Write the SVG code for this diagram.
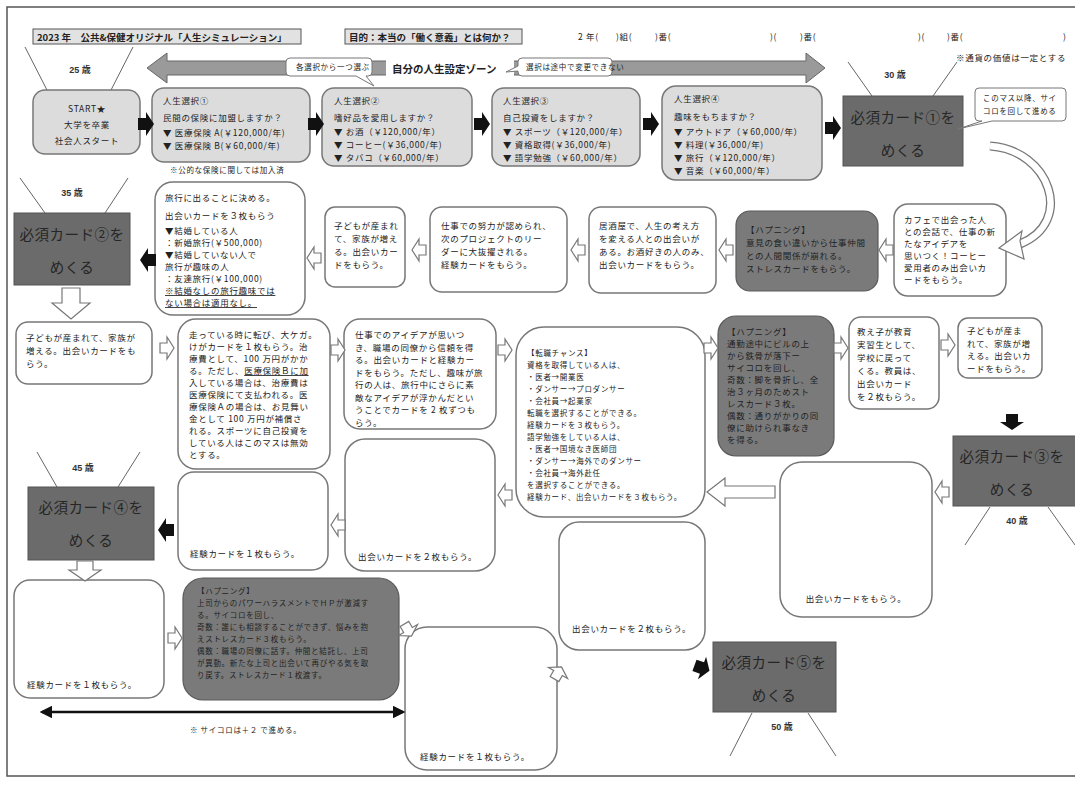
<svg xmlns="http://www.w3.org/2000/svg" xmlns:xlink="http://www.w3.org/1999/xlink" width="1075" height="800" viewBox="0 0 1075 800">
<style>
.t{font-family:"Noto Sans CJK JP","Liberation Sans",sans-serif;font-size:8.5px;fill:#222;letter-spacing:0.7px}
.s{font-size:7.5px}
.h{font-family:"Noto Sans CJK JP","Liberation Sans",sans-serif;font-size:9.5px;font-weight:bold;fill:#222}
.age{font-family:"Liberation Sans","Noto Sans CJK JP",sans-serif;font-size:9px;font-weight:bold;fill:#333;text-anchor:middle}
.lt{fill:#dcdcdc;stroke:#777;stroke-width:1.5}
.wb{fill:#fff;stroke:#777;stroke-width:1.5}
.db{fill:#7a7a7a;stroke:#5a5a5a;stroke-width:1.2}
.must{fill:#6b6b6b;stroke:#555;stroke-width:1}
.mt{font-family:"Liberation Serif","Noto Sans CJK JP",serif;font-size:14.5px;fill:#262626;text-anchor:middle;letter-spacing:0.5px}
.ln{stroke:#666;stroke-width:1;fill:none}
.ha{fill:#fff;stroke:#777;stroke-width:1.2}
.ba{fill:#111}
.u{text-decoration:underline}
</style>
<defs>
<path id="ha" d="M-7,-5 H0 V-11 L7,0 L0,11 V5 H-7 Z"/>
<path id="ba" d="M-8,-6 H0 V-12 L8,0 L0,12 V6 H-8 Z"/>
<marker id="mk" viewBox="0 0 10 10" refX="8" refY="5" markerWidth="5" markerHeight="5" orient="auto-start-reverse"><path d="M0,0 L10,5 L0,10 Z" fill="#111"/></marker>
</defs>
<rect x="7" y="7" width="1080" height="769" fill="#fff" stroke="#555" stroke-width="1.5"/>

<g id="header">
<rect x="33" y="29" width="268" height="15" fill="#e2e2e2" stroke="#555"/>
<text class="h" x="37" y="40.5">2023 年　公共&amp;保健オリジナル「人生シミュレーション」</text>
<rect x="345" y="29" width="177" height="15" fill="#e2e2e2" stroke="#555"/>
<text class="h" x="349" y="40.5">目的：本当の「働く意義」とは何か？</text>
<text class="t" x="578" y="40">2 年(</text>
<text class="t" x="616" y="40">)組(</text>
<text class="t" x="655" y="40">)番(</text>
<text class="t" x="770" y="40">)(</text>
<text class="t" x="800" y="40">)番(</text>
<text class="t" x="918" y="40">)(</text>
<text class="t" x="947" y="40">)番(</text>
<text class="t" x="1063" y="40">)</text>
<text class="t" x="956" y="61">※通貨の価値は一定とする</text>
</g>

<g id="zone">
<path d="M147,68 L167,53 L167,61 L806,61 L806,53 L825,68 L806,83 L806,75 L167,75 L167,83 Z" fill="#9a9a9a" stroke="#666"/>
<rect x="386" y="60" width="128" height="17" fill="#fff"/>
<text class="h" x="392" y="73" style="font-size:10.5px">自分の人生設定ゾーン</text>
<path d="M290,58 H368 Q372,58 372,62 V72 Q372,76 368,76 H366 L374,86 L356,76 H290 Q286,76 286,72 V62 Q286,58 290,58 Z" fill="#fff" stroke="#777"/>
<text class="t s" x="296" y="70">各選択から一つ選ぶ</text>
<path d="M522,58 H608 Q612,58 612,62 V72 Q612,76 608,76 H522 Q518,76 518,72 V71 L506,72 L518,66 V62 Q518,58 522,58 Z" fill="#fff" stroke="#777"/>
<text class="t s" x="526" y="70">選択は途中で変更できない</text>
</g>

<g id="ages">
<text class="age" x="80" y="73">25 歳</text>
<line class="ln" x1="25" y1="47" x2="48" y2="92"/><line class="ln" x1="133" y1="47" x2="110" y2="92"/>
<text class="age" x="895" y="78">30 歳</text>
<line class="ln" x1="848" y1="62" x2="872" y2="96"/><line class="ln" x1="957" y1="62" x2="933" y2="96"/>
<text class="age" x="72" y="196">35 歳</text>
<line class="ln" x1="20" y1="178" x2="45" y2="213"/><line class="ln" x1="128" y1="178" x2="105" y2="213"/>
<text class="age" x="1017" y="524">40 歳</text>
<line class="ln" x1="990" y1="507" x2="965" y2="545"/><line class="ln" x1="1048" y1="507" x2="1075" y2="545"/>
<text class="age" x="83" y="471">45 歳</text>
<line class="ln" x1="37" y1="452" x2="57" y2="487"/><line class="ln" x1="140" y1="452" x2="118" y2="487"/>
<text class="age" x="782" y="730">50 歳</text>
<line class="ln" x1="752" y1="713" x2="730" y2="756"/><line class="ln" x1="808" y1="713" x2="836" y2="756"/>
</g>

<g id="start">
<rect class="lt" x="33" y="90" width="107" height="64" rx="12"/>
<text class="t" text-anchor="middle" x="87" y="112">START★</text>
<text class="t" text-anchor="middle" x="87" y="128">大学を卒業</text>
<text class="t" text-anchor="middle" x="87" y="144">社会人スタート</text>
</g>
<g id="choice1">
<rect class="lt" x="152" y="88" width="158" height="74" rx="12"/>
<text class="t" x="163" y="104">人生選択①</text>
<text class="t" x="163" y="121">民間の保険に加盟しますか？</text>
<text class="t" x="163" y="136">▼ 医療保険 A(￥120,000/年)</text>
<text class="t" x="163" y="149">▼ 医療保険 B(￥60,000/年)</text>
<text class="t s" x="170" y="173">※公的な保険に関しては加入済</text>
</g>
<g id="choice2">
<rect class="lt" x="322" y="88" width="150" height="78" rx="12"/>
<text class="t" x="334" y="104">人生選択②</text>
<text class="t" x="334" y="121">嗜好品を愛用しますか？</text>
<text class="t" x="334" y="135">▼ お酒（￥120,000/年）</text>
<text class="t" x="334" y="148">▼ コーヒー(￥36,000/年)</text>
<text class="t" x="334" y="161">▼ タバコ（￥60,000/年）</text>
</g>
<g id="choice3">
<rect class="lt" x="492" y="88" width="148" height="78" rx="12"/>
<text class="t" x="503" y="104">人生選択③</text>
<text class="t" x="503" y="121">自己投資をしますか？</text>
<text class="t" x="503" y="135">▼ スポーツ（￥120,000/年）</text>
<text class="t" x="503" y="148">▼ 資格取得(￥36,000/年)</text>
<text class="t" x="503" y="161">▼ 語学勉強（￥60,000/年）</text>
</g>
<g id="choice4">
<rect class="lt" x="662" y="86" width="160" height="94" rx="14"/>
<text class="t" x="674" y="102">人生選択④</text>
<text class="t" x="674" y="120">趣味をもちますか？</text>
<text class="t" x="674" y="135">▼ アウトドア（￥60,000/年）</text>
<text class="t" x="674" y="148">▼ 料理(￥36,000/年)</text>
<text class="t" x="674" y="161">▼ 旅行（￥120,000/年）</text>
<text class="t" x="674" y="174">▼ 音楽（￥60,000/年）</text>
</g>
<g id="must1">
<rect class="must" x="843" y="96" width="120" height="70"/>
<text class="mt" x="903" y="123">必須カード①を</text>
<text class="mt" x="903" y="156">めくる</text>
</g>
<g id="note1">
<path d="M979,88 H1062 Q1066,88 1066,92 V117 Q1066,121 1062,121 H992 L958,129 L982,121 H979 Q975,121 975,117 V92 Q975,88 979,88 Z" fill="#fff" stroke="#777"/>
<text class="t s" x="983" y="101">このマス以降、サイ</text>
<text class="t s" x="983" y="114">コロを回して進める</text>
</g>

<g id="must2">
<rect class="must" x="14" y="213" width="116" height="72"/>
<text class="mt" x="72" y="240">必須カード②を</text>
<text class="mt" x="72" y="273">めくる</text>
</g>
<g id="travel">
<rect class="wb" x="155" y="182" width="150" height="133" rx="18"/>
<text class="t" x="165" y="201">旅行に出ることに決める。</text>
<text class="t" x="165" y="219">出会いカードを３枚もらう</text>
<text class="t" x="165" y="234">▼結婚している人</text>
<text class="t" x="165" y="246">：新婚旅行(￥500,000)</text>
<text class="t" x="165" y="258">▼結婚していない人で</text>
<text class="t" x="165" y="270">旅行が趣味の人</text>
<text class="t" x="165" y="282">：友達旅行(￥100,000)</text>
<text class="t u" x="165" y="294">※結婚なしの旅行趣味では</text>
<text class="t u" x="165" y="306">ない場合は適用なし。</text>
</g>
<g id="child1">
<rect class="wb" x="325" y="207" width="80" height="80" rx="10"/>
<text class="t" x="334" y="229">子どもが産まれ</text>
<text class="t" x="334" y="242">て、家族が増え</text>
<text class="t" x="334" y="255">る。出会いカー</text>
<text class="t" x="334" y="268">ドをもらう。</text>
</g>
<g id="work1">
<rect class="wb" x="430" y="207" width="137" height="85" rx="12"/>
<text class="t" x="441" y="229">仕事での努力が認められ、</text>
<text class="t" x="441" y="242">次のプロジェクトのリー</text>
<text class="t" x="441" y="255">ダーに大抜擢される。</text>
<text class="t" x="441" y="268">経験カードをもらう。</text>
</g>
<g id="izakaya">
<rect class="wb" x="589" y="207" width="127" height="86" rx="12"/>
<text class="t" x="599" y="229">居酒屋で、人生の考え方</text>
<text class="t" x="599" y="242">を変える人との出会いが</text>
<text class="t" x="599" y="255">ある。お酒好きの人のみ、</text>
<text class="t" x="599" y="268">出会いカードをもらう。</text>
</g>
<g id="happening1">
<rect class="db" x="736" y="211" width="142" height="80" rx="14"/>
<text class="t" x="746" y="233">【ハプニング】</text>
<text class="t" x="746" y="246">意見の食い違いから仕事仲間</text>
<text class="t" x="746" y="259">との人間関係が崩れる。</text>
<text class="t" x="746" y="272">ストレスカードをもらう。</text>
</g>
<g id="cafe">
<rect class="wb" x="894" y="204" width="112" height="92" rx="14"/>
<text class="t" x="904" y="223">カフェで出会った人</text>
<text class="t" x="904" y="235">との会話で、仕事の新</text>
<text class="t" x="904" y="247">たなアイデアを</text>
<text class="t" x="904" y="259">思いつく！コーヒー</text>
<text class="t" x="904" y="271">愛用者のみ出会いカ</text>
<text class="t" x="904" y="283">ードをもらう。</text>
</g>

<g id="child2">
<rect class="wb" x="16" y="322" width="136" height="62" rx="12"/>
<text class="t" x="26" y="341">子どもが産まれて、家族が</text>
<text class="t" x="26" y="354">増える。出会いカードをも</text>
<text class="t" x="26" y="367">らう。</text>
</g>
<g id="injury">
<rect class="wb" x="178" y="319" width="152" height="150" rx="18"/>
<text class="t" x="189" y="338">走っている時に転び、大ケガ。</text>
<text class="t" x="189" y="350">けがカードを１枚もらう。治</text>
<text class="t" x="189" y="362">療費として、100 万円がかか</text>
<text class="t" x="189" y="374">る。ただし、<tspan class="u">医療保険Ｂに加</tspan></text>
<text class="t" x="189" y="386">入している場合は、治療費は</text>
<text class="t" x="189" y="398">医療保険にて支払われる。医</text>
<text class="t" x="189" y="410">療保険Ａの場合は、お見舞い</text>
<text class="t" x="189" y="422">金として 100 万円が補償さ</text>
<text class="t" x="189" y="434">れる。スポーツに自己投資を</text>
<text class="t" x="189" y="446">している人はこのマスは無効</text>
<text class="t" x="189" y="458">とする。</text>
</g>
<g id="idea">
<rect class="wb" x="344" y="319" width="152" height="110" rx="16"/>
<text class="t" x="355" y="338">仕事でのアイデアが思いつ</text>
<text class="t" x="355" y="350.5">き、職場の同僚から信頼を得</text>
<text class="t" x="355" y="363">る。出会いカードと経験カー</text>
<text class="t" x="355" y="375.5">ドをもらう。ただし、趣味が旅</text>
<text class="t" x="355" y="388">行の人は、旅行中にさらに素</text>
<text class="t" x="355" y="400.5">敵なアイデアが浮かんだとい</text>
<text class="t" x="355" y="413">うことでカードを 2 枚ずつも</text>
<text class="t" x="355" y="425.5">らう。</text>
</g>
<g id="career">
<rect class="wb" x="516" y="327" width="189" height="190" rx="28"/>
<text class="t s" x="527" y="356">【転職チャンス】</text>
<text class="t s" x="527" y="368">資格を取得している人は、</text>
<text class="t s" x="527" y="380">・医者→開業医</text>
<text class="t s" x="527" y="392">・ダンサー→プロダンサー</text>
<text class="t s" x="527" y="404">・会社員→起業家</text>
<text class="t s" x="527" y="416">転職を選択することができる。</text>
<text class="t s" x="527" y="428">経験カードを３枚もらう。</text>
<text class="t s" x="527" y="440">語学勉強をしている人は、</text>
<text class="t s" x="527" y="452">・医者→国境なき医師団</text>
<text class="t s" x="527" y="464">・ダンサー→海外でのダンサー</text>
<text class="t s" x="527" y="476">・会社員→海外赴任</text>
<text class="t s" x="527" y="488">を選択することができる。</text>
<text class="t s" x="527" y="500">経験カード、出会いカードを３枚もらう。</text>
</g>
<g id="happening2">
<rect class="db" x="718" y="316" width="116" height="140" rx="18"/>
<text class="t" x="727" y="335">【ハプニング】</text>
<text class="t" x="727" y="347">通勤途中にビルの上</text>
<text class="t" x="727" y="359">から鉄骨が落下ー</text>
<text class="t" x="727" y="371">サイコロを回し、</text>
<text class="t" x="727" y="383">奇数：脚を骨折し、全</text>
<text class="t" x="727" y="395">治３ヶ月のためスト</text>
<text class="t" x="727" y="407">レスカード３枚。</text>
<text class="t" x="727" y="419">偶数：通りがかりの同</text>
<text class="t" x="727" y="431">僚に助けられ事なき</text>
<text class="t" x="727" y="443">を得る。</text>
</g>
<g id="student">
<rect class="wb" x="849" y="317" width="90" height="92" rx="12"/>
<text class="t" x="857" y="335">教え子が教育</text>
<text class="t" x="857" y="348">実習生として、</text>
<text class="t" x="857" y="361">学校に戻って</text>
<text class="t" x="857" y="374">くる。教員は、</text>
<text class="t" x="857" y="387">出会いカード</text>
<text class="t" x="857" y="400">を２枚もらう。</text>
</g>
<g id="child3">
<rect class="wb" x="958" y="318" width="84" height="60" rx="10"/>
<text class="t" x="967" y="334">子どもが産ま</text>
<text class="t" x="967" y="346.5">れて、家族が増</text>
<text class="t" x="967" y="359">える。出会いカ</text>
<text class="t" x="967" y="371.5">ードをもらう。</text>
</g>
<g id="must3">
<rect class="must" x="953" y="436" width="125" height="70"/>
<text class="mt" x="1012" y="462">必須カード③を</text>
<text class="mt" x="1012" y="495">めくる</text>
</g>
<g id="meet1">
<rect class="wb" x="780" y="462" width="152" height="155" rx="22"/>
<text class="t" x="856" y="602" text-anchor="middle">出会いカードをもらう。</text>
</g>
<g id="meet2a">
<rect class="wb" x="345" y="439" width="150" height="132" rx="20"/>
<text class="t" x="358" y="560">出会いカードを２枚もらう。</text>
</g>
<g id="exp1">
<rect class="wb" x="178" y="472" width="150" height="98" rx="16"/>
<text class="t" x="190" y="557">経験カードを１枚もらう。</text>
</g>
<g id="must4">
<rect class="must" x="28" y="487" width="126" height="73"/>
<text class="mt" x="91" y="513">必須カード④を</text>
<text class="mt" x="91" y="546">めくる</text>
</g>

<g id="exp2">
<rect class="wb" x="14" y="580" width="150" height="118" rx="16"/>
<text class="t" x="27" y="688">経験カードを１枚もらう。</text>
</g>
<g id="happening3">
<rect class="db" x="183" y="578" width="216" height="122" rx="20"/>
<text class="t s" x="197" y="594">【ハプニング】</text>
<text class="t s" x="197" y="606">上司からのパワーハラスメントでＨＰが激減す</text>
<text class="t s" x="197" y="618">る。サイコロを回し、</text>
<text class="t s" x="197" y="630">奇数：誰にも相談することができず、悩みを抱</text>
<text class="t s" x="197" y="642">えストレスカード３枚もらう。</text>
<text class="t s" x="197" y="654">偶数：職場の同僚に話す。仲間と結託し、上司</text>
<text class="t s" x="197" y="666">が異動。新たな上司と出会いて再びやる気を取</text>
<text class="t s" x="197" y="678">り戻す。ストレスカード１枚渡す。</text>
</g>
<g id="exp3">
<rect class="wb" x="405" y="627" width="152" height="143" rx="22"/>
<text class="t" x="420" y="760">経験カードを１枚もらう。</text>
</g>
<g id="meet2b">
<rect class="wb" x="559" y="522" width="146" height="128" rx="20"/>
<text class="t" x="572" y="632">出会いカードを２枚もらう。</text>
</g>
<g id="must5">
<rect class="must" x="713" y="642" width="123" height="70"/>
<text class="mt" x="774" y="668">必須カード⑤を</text>
<text class="mt" x="774" y="701">めくる</text>
</g>
<g id="dice-note">
<text class="t s" x="190" y="733">※ サイコロは＋２ で進める。</text>
</g>

<g id="connectors">
<use href="#ba" class="ba" transform="translate(146,124)"/>
<use href="#ba" class="ba" transform="translate(316,124)"/>
<use href="#ba" class="ba" transform="translate(482,124)"/>
<use href="#ba" class="ba" transform="translate(651,124)"/>
<use href="#ba" class="ba" transform="translate(833,128)"/>
<path d="M990,146 C1050,150 1075,222 1020,244" fill="none" stroke="#777" stroke-width="9"/>
<path d="M990,146 C1050,150 1075,222 1020,244" fill="none" stroke="#fff" stroke-width="6.5"/>
<path d="M999,248 L1022,231 L1020,241 L1024,259 Z" class="ha"/>
<use href="#ba" class="ba" transform="translate(148,260) rotate(180)"/>
<use href="#ha" class="ha" transform="translate(314,258) rotate(180)"/>
<use href="#ha" class="ha" transform="translate(419,250) rotate(180)"/>
<use href="#ha" class="ha" transform="translate(578,250) rotate(180)"/>
<use href="#ha" class="ha" transform="translate(726,250) rotate(180)"/>
<use href="#ha" class="ha" transform="translate(886,250) rotate(180)"/>
<path class="ha" d="M62,288 H80 V303 H90 L71,319 L52,303 H62 Z"/>
<use href="#ha" class="ha" transform="translate(167,348)"/>
<use href="#ha" class="ha" transform="translate(338,350)"/>
<use href="#ha" class="ha" transform="translate(505,350)"/>
<use href="#ha" class="ha" transform="translate(711,348)"/>
<use href="#ha" class="ha" transform="translate(841,348)"/>
<use href="#ha" class="ha" transform="translate(948,345)"/>
<use href="#ba" class="ba" transform="translate(1012,422) rotate(90)"/>
<use href="#ha" class="ha" transform="translate(942,492) rotate(180)"/>
<path class="ha" d="M707,492 L725,478 V486 H775 V498 H725 V506 Z"/>
<use href="#ha" class="ha" transform="translate(505,495) rotate(180)"/>
<use href="#ha" class="ha" transform="translate(338,525) rotate(180)"/>
<use href="#ba" class="ba" transform="translate(166,530) rotate(180)"/>
<path class="ha" d="M77,561 H93 V570 H101 L85,581 L69,570 H77 Z"/>
<use href="#ha" class="ha" transform="translate(175,638)"/>
<use href="#ha" class="ha" transform="translate(408,630) rotate(60)"/>
<use href="#ha" class="ha" transform="translate(558,673) rotate(-60)"/>
<use href="#ba" class="ba" transform="translate(702,668) rotate(20)"/>
<line x1="42" y1="712" x2="403" y2="712" stroke="#111" stroke-width="2.5" marker-start="url(#mk)" marker-end="url(#mk)"/>
</g>
</svg>
